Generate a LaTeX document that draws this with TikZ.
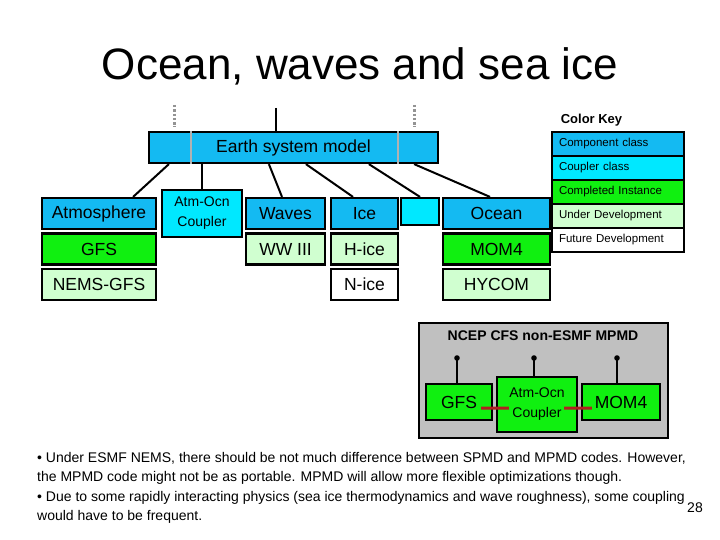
\documentclass[tikz,border=0pt]{standalone}
\usepackage{fontspec}
\setmainfont{Liberation Sans}
\usetikzlibrary{positioning,calc}

\definecolor{compblue}{RGB}{20,186,242}
\definecolor{cplcyan}{RGB}{0,232,255}
\definecolor{donegreen}{RGB}{16,240,16}
\definecolor{devgreen}{RGB}{208,255,208}
\definecolor{panelgray}{RGB}{192,192,192}
\definecolor{pinred}{RGB}{176,32,32}

\tikzset{
    box/.style={draw=black, line width=2.2bp, inner sep=0pt, align=center,
        font=\fontsize{17.5bp}{20bp}\selectfont},
    comp/.style={box, fill=compblue},
    cpl/.style={box, fill=cplcyan, font=\fontsize{14bp}{20bp}\selectfont},
    done/.style={box, fill=donegreen},
    dev/.style={box, fill=devgreen},
    future/.style={box, fill=white},
    keyrow/.style={draw=black, line width=2bp, inner xsep=7bp, inner ysep=0pt,
        text width=118bp, minimum height=24bp, align=left,
        font=\fontsize{11.5bp}{13bp}\selectfont},
    link/.style={line width=2bp},
    redlink/.style={line width=3bp, pinred},
    note/.style={anchor=base west, inner sep=0pt, font=\fontsize{14bp}{16bp}\selectfont}
}

\begin{document}
\begin{tikzpicture}[x=1bp, y=-1bp]
    \useasboundingbox (0,0) rectangle (720,540);
    % Title
    \node[anchor=base, font=\fontsize{44bp}{50bp}\selectfont] (title) at (360,80) {Ocean, waves and sea ice};

    % Earth system model box and its hooks above
    \node[comp, minimum width=289bp, minimum height=31bp] (esm) at (293.5,147.5) {Earth system model};
    \draw[gray!60, line width=1.8bp] ([xshift=43bp]esm.north west) -- ([xshift=43bp]esm.south west);
    \draw[gray!60, line width=1.8bp] ([xshift=-41bp]esm.north east) -- ([xshift=-41bp]esm.south east);
    \coordinate (hookL) at (174,105);
    \coordinate (hookR) at (414,105);
    \coordinate (hookM) at (276,108);
    \foreach \h in {hookL,hookR} {
        \draw[gray!85, line width=3bp, dash pattern=on 2.5bp off 1.8bp] (\h) -- ++(0,22);
    }
    \draw[link] (hookM) -- (hookM |- esm.north);

    % Component columns
    \node[comp, minimum width=114bp, minimum height=31bp] (atm) at (99,213.5) {Atmosphere};
    \node[done, minimum width=114bp, minimum height=31bp, below=2.3bp of atm] (gfs) {GFS};
    \node[dev, minimum width=114bp, minimum height=31bp, below=2.3bp of gfs] (nemsgfs) {NEMS-GFS};

    \node[cpl, minimum width=80bp, minimum height=47bp] (cpl) at (202,213.5) {Atm-Ocn\\Coupler};

    \node[comp, minimum width=79bp, minimum height=31bp] (waves) at (285.5,213.5) {Waves};
    \node[dev, minimum width=79bp, minimum height=31bp, below=2.3bp of waves] (ww3) {WW III};

    \node[comp, minimum width=67bp, minimum height=31bp] (ice) at (364.5,213.5) {Ice};
    \node[dev, minimum width=67bp, minimum height=31bp, below=2.3bp of ice] (hice) {H-ice};
    \node[future, minimum width=67bp, minimum height=31bp, below=2.3bp of hice] (nice) {N-ice};

    \node[cpl, minimum width=38bp, minimum height=27bp] (spare) at (420,211.5) {};

    \node[comp, minimum width=107bp, minimum height=31bp] (ocean) at (496.5,213.5) {Ocean};
    \node[done, minimum width=107bp, minimum height=31bp, below=2.3bp of ocean] (mom4) {MOM4};
    \node[dev, minimum width=107bp, minimum height=31bp, below=2.3bp of mom4] (hycom) {HYCOM};

    % Links from the Earth system model
    \draw[link] ([xshift=21bp]esm.south west) -- ([xshift=-24bp]atm.north east);
    \draw[link] (cpl.north |- esm.south) -- (cpl.north);
    \draw[link] ([xshift=121bp]esm.south west) -- ([xshift=-3.5bp]waves.north);
    \draw[link] ([xshift=158bp]esm.south west) -- ([xshift=-11.5bp]ice.north);
    \draw[link] ([xshift=221bp]esm.south west) -- (spare.north);
    \draw[link] ([xshift=-25bp]esm.south east) -- ([xshift=-6.5bp]ocean.north);

    % Color key
    \node[font=\bfseries\fontsize{13bp}{15bp}\selectfont] (keytitle) at (591.5,120) {Color Key};
    \foreach \txt/\col [count=\i] in {Component class/compblue, Coupler class/cplcyan,
        Completed Instance/donegreen, Under Development/devgreen, Future Development/white} {
        \node[keyrow, fill=\col] (key\i) at (618,120+24*\i) {\txt};
    }

    % NCEP CFS panel
    \node[draw=black, line width=2.2bp, fill=panelgray, minimum width=249bp, minimum height=115bp] (ncep) at (543.5,380.5) {};
    \node[font=\bfseries\fontsize{14bp}{16bp}\selectfont] (nceptitle) at (543,336) {NCEP CFS non-ESMF MPMD};
    \node[done, minimum width=66bp, minimum height=36bp] (ngfs) at (459,402) {GFS};
    \node[done, cpl, fill=donegreen, minimum width=80bp, minimum height=55bp] (ncpl) at (537,404.5) {Atm-Ocn\\Coupler};
    \node[done, minimum width=78bp, minimum height=36bp] (nmom) at (621,402) {MOM4};
    \foreach \n/\xx in {ngfs/457, ncpl/534, nmom/617} {
        \coordinate (pin\n) at (\xx,358);
        \draw[link] (pin\n) -- (pin\n |- \n.north);
        \fill (pin\n) circle (2.8bp);
    }
    \draw[redlink] ([shift={(-12,6)}]ngfs.east) -- ([shift={(13,3.5)}]ncpl.west);
    \draw[redlink] ([shift={(-14,3.5)}]ncpl.east) -- ([shift={(11,6)}]nmom.west);

    % Notes
    \node[note] (note1) at (37,462) {• Under ESMF NEMS, there should be not much difference between SPMD and MPMD codes. However,};
    \node[note] (note2) at (37,481) {the MPMD code might not be as portable. MPMD will allow more flexible optimizations though.};
    \node[note] (note3) at (37,501) {• Due to some rapidly interacting physics (sea ice thermodynamics and wave roughness), some coupling};
    \node[note] (note4) at (37,520) {would have to be frequent.};
    \node[note, anchor=base east] (pgnum) at (703,512) {28};
\end{tikzpicture}
\end{document}
